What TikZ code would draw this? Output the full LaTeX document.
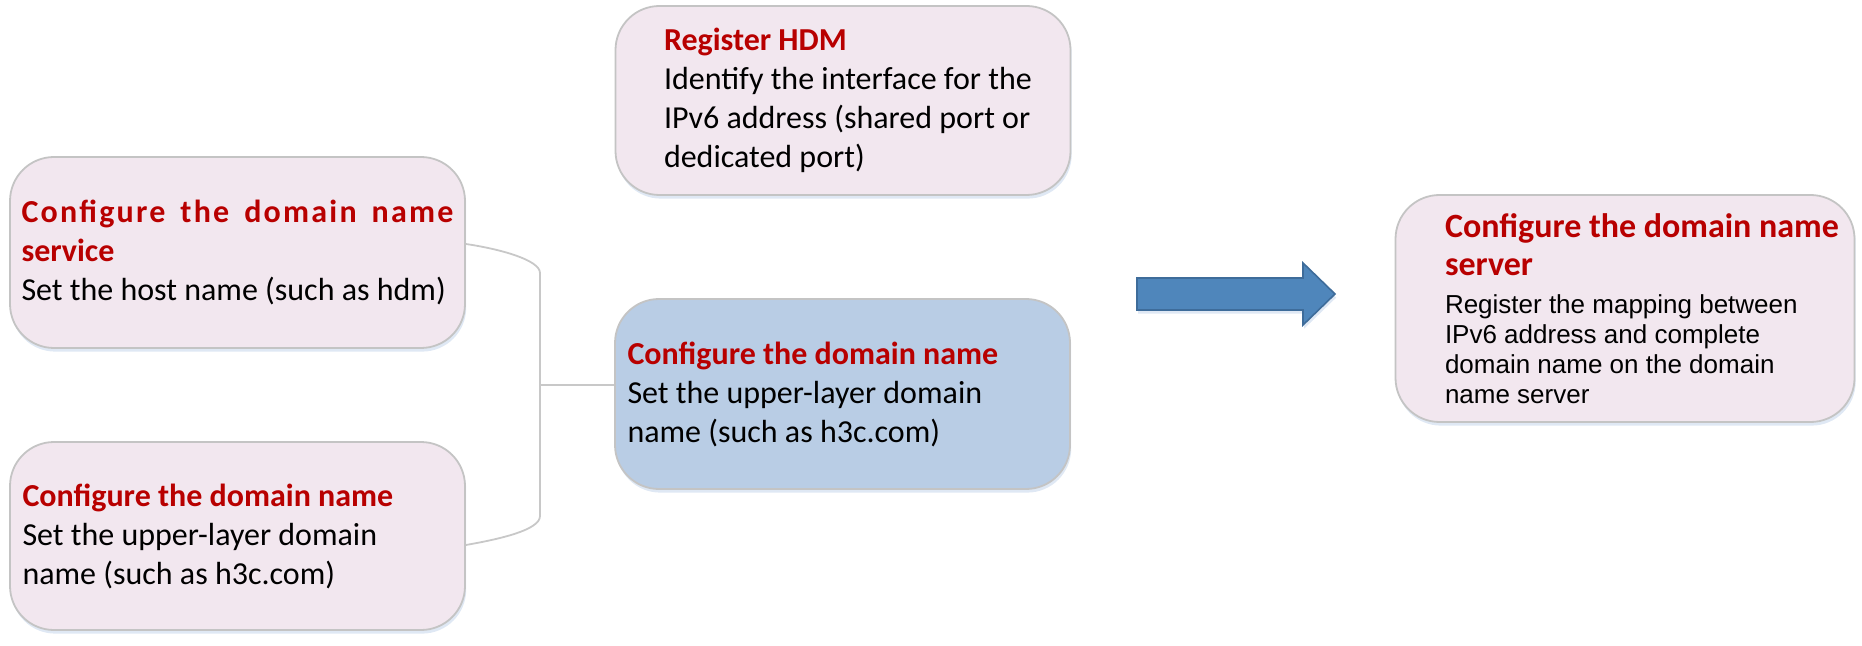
\documentclass[tikz,border=0pt]{standalone}
\usepackage{fontspec}
\setmainfont{Carlito}
\newfontfamily\arialfont{Liberation Sans}
\usepackage{xcolor}
\usetikzlibrary{positioning, shadows}

\definecolor{titlered}{HTML}{B80000}
\definecolor{pinkfill}{HTML}{F2E7EF}
\definecolor{bluefill}{HTML}{B9CDE5}
\definecolor{boxline}{HTML}{C4C4C4}
\definecolor{shadowblue}{HTML}{C9D9EC}
\definecolor{linkgray}{HTML}{C8C8C8}
\definecolor{arrowblue}{HTML}{4F86BB}
\definecolor{arrowline}{HTML}{3E6C9A}

\newcommand{\steptitle}[1]{{\bfseries\color{titlered}#1}}

\begin{document}
\begin{tikzpicture}[x=0.5pt, y=-0.5pt,
  stepbox/.style={draw=boxline, line width=0.9pt, fill=pinkfill, rounded corners=22pt,
    minimum width=227.5pt, minimum height=95pt, inner sep=0pt,
    drop shadow={shadow xshift=0.6pt, shadow yshift=-1.8pt, fill=shadowblue, opacity=0.6}},
  bluebox/.style={stepbox, fill=bluefill},
  steptext/.style={align=left, inner sep=0pt, font=\fontsize{16}{19.5}\selectfont},
  servertext/.style={align=left, inner sep=0pt, font=\fontsize{13}{15}\selectfont\arialfont},
  link/.style={draw=linkgray, line width=0.9pt},
  flowarrow/.style={fill=arrowblue, draw=arrowline, line width=0.8pt,
    drop shadow={shadow xshift=0.6pt, shadow yshift=-1.8pt, fill=shadowblue, opacity=0.6}}]

\useasboundingbox (0,0) rectangle (1862,646);

% left column
\node[stepbox, minimum height=95.5pt] (hostbox) at (237.5,252.5) {};
\node[steptext, right=6pt of hostbox.west] (hosttext) {\makebox[216pt][s]{\addfontfeature{LetterSpace=7}\steptitle{Configure the domain name}}\\ \steptitle{service}\\ Set the host name (such as hdm)};

\node[stepbox, minimum height=94pt] (domainbox) at (237.5,536) {};
\node[steptext, right=6.5pt of domainbox.west] (domaintext) {\steptitle{Configure the domain name}\\ Set the upper-layer domain\\ name (such as h3c.com)};

% middle column
\node[stepbox, minimum height=94.5pt] (regbox) at (843,100.5) {};
\node[steptext, right=24.5pt of regbox.west] (regtext) {\steptitle{Register HDM}\\ Identify the interface for the\\ IPv6 address (shared port or\\ dedicated port)};

\node[bluebox] (confbox) at (842.5,394) {};
\node[steptext, right=6.5pt of confbox.west] (conftext) {\steptitle{Configure the domain name}\\ Set the upper-layer domain\\ name (such as h3c.com)};

% right column
\node[stepbox, minimum width=229.5pt, minimum height=113.5pt] (serverbox) at (1625,308.5) {};
\node[servertext, right=25pt of serverbox.west] (servertext) {{\normalfont\fontsize{17}{19}\selectfont\steptitle{Configure the domain name}}\\[4pt]
  {\normalfont\fontsize{17}{19}\selectfont\steptitle{server}}\\[4pt]
  Register the mapping between\\ IPv6 address and complete\\ domain name on the domain\\ name server};

% bracket joining the two left boxes
\coordinate (railtop) at (540,273);
\coordinate (railbot) at (540,516);
\coordinate (joint) at (540,385);
\draw[link] ([yshift=4.25pt]hostbox.east) .. controls (500,249) and (540,260) .. (railtop) -- (railbot)
  .. controls (540,530) and (500,539) .. ([yshift=-4.5pt]domainbox.east);
\draw[link] (joint) -- (joint -| confbox.west);

% block arrow
\draw[flowarrow] (1137,278) -- (1303,278) -- (1303,263) -- (1335,294) -- (1303,325) -- (1303,310) -- (1137,310) -- cycle;
\end{tikzpicture}
\end{document}
